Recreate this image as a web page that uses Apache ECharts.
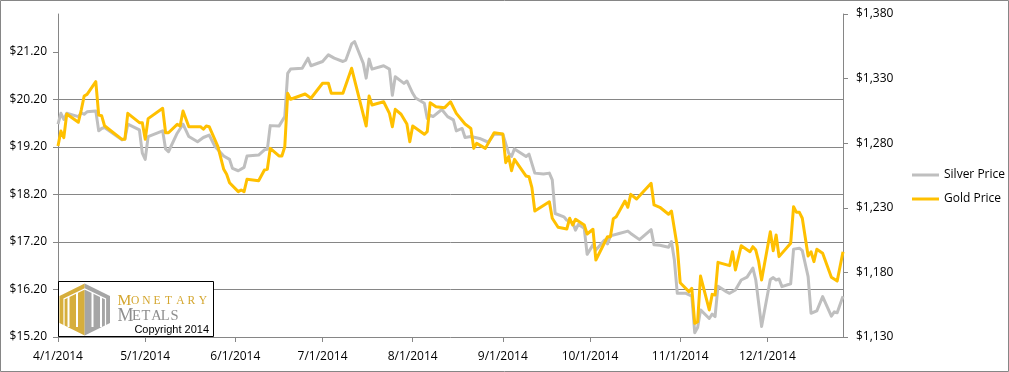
<!DOCTYPE html>
<html><head><meta charset="utf-8">
<script src="https://cdn.jsdelivr.net/npm/echarts@6/dist/echarts.min.js"></script>
<style>html,body{margin:0;padding:0;background:#fff}#c{width:1009px;height:372px}</style>
</head><body><div id="c"></div>
<script>
// ---------- data ----------
const xTickLabels = ['4/1/2014','5/1/2014','6/1/2014','7/1/2014','8/1/2014','9/1/2014','10/1/2014','11/1/2014','12/1/2014'];
const xStart = '4/1/2014';
const xEnd = '12/27/2014';
const silverTicks = [15.2, 16.2, 17.2, 18.2, 19.2, 20.2, 21.2];
const silverMax = 22.0;
const goldTicks = [1130, 1180, 1230, 1280, 1330, 1380];
const seriesNames = ['Silver Price', 'Gold Price'];

const silverDates = ['2014-04-01','2014-04-02','2014-04-03','2014-04-04','2014-04-08','2014-04-09','2014-04-10','2014-04-11','2014-04-14','2014-04-15','2014-04-16','2014-04-17','2014-04-23','2014-04-24','2014-04-25','2014-04-29','2014-04-30','2014-05-01','2014-05-02','2014-05-07','2014-05-08','2014-05-09','2014-05-12','2014-05-14','2014-05-16','2014-05-19','2014-05-21','2014-05-23','2014-05-25','2014-05-28','2014-05-30','2014-05-31','2014-06-02','2014-06-04','2014-06-05','2014-06-09','2014-06-11','2014-06-12','2014-06-13','2014-06-16','2014-06-18','2014-06-19','2014-06-20','2014-06-24','2014-06-26','2014-06-27','2014-07-01','2014-07-03','2014-07-05','2014-07-08','2014-07-09','2014-07-11','2014-07-12','2014-07-15','2014-07-16','2014-07-17','2014-07-18','2014-07-22','2014-07-24','2014-07-25','2014-07-26','2014-07-29','2014-07-30','2014-08-01','2014-08-02','2014-08-05','2014-08-06','2014-08-07','2014-08-08','2014-08-11','2014-08-13','2014-08-15','2014-08-16','2014-08-18','2014-08-19','2014-08-21','2014-08-24','2014-08-27','2014-08-29','2014-09-01','2014-09-03','2014-09-04','2014-09-05','2014-09-09','2014-09-10','2014-09-12','2014-09-15','2014-09-17','2014-09-18','2014-09-19','2014-09-22','2014-09-23','2014-09-25','2014-09-26','2014-09-27','2014-09-29','2014-09-30','2014-10-02','2014-10-03','2014-10-06','2014-10-07','2014-10-08','2014-10-11','2014-10-14','2014-10-15','2014-10-18','2014-10-22','2014-10-23','2014-10-25','2014-10-28','2014-10-29','2014-10-30','2014-10-31','2014-11-03','2014-11-05','2014-11-06','2014-11-07','2014-11-08','2014-11-11','2014-11-12','2014-11-13','2014-11-14','2014-11-17','2014-11-18','2014-11-20','2014-11-22','2014-11-24','2014-11-26','2014-11-27','2014-11-29','2014-12-02','2014-12-03','2014-12-04','2014-12-05','2014-12-06','2014-12-09','2014-12-10','2014-12-12','2014-12-13','2014-12-15','2014-12-16','2014-12-18','2014-12-20','2014-12-23','2014-12-24','2014-12-25','2014-12-27'];
const silverValues = [19.68,19.91,19.78,19.91,19.84,19.92,19.89,19.94,19.96,19.54,19.59,19.61,19.35,19.37,19.68,19.56,19.07,18.94,19.42,19.54,19.16,19.10,19.49,19.68,19.42,19.31,19.40,19.45,19.21,19.01,18.94,18.75,18.70,18.77,19.01,19.03,19.14,19.15,19.65,19.64,19.84,20.75,20.84,20.86,21.07,20.91,21.00,21.14,21.07,21.00,21.03,21.37,21.42,20.96,20.65,21.05,20.84,20.91,20.84,20.29,20.68,20.54,20.59,20.33,20.23,20.12,19.80,19.87,19.84,19.99,19.84,19.77,19.54,19.59,19.40,19.42,19.38,19.30,19.47,19.47,19.07,19.00,19.16,19.00,19.05,18.65,18.63,18.65,18.51,17.80,17.73,17.66,17.61,17.45,17.57,17.49,16.94,17.14,17.03,17.24,17.16,17.33,17.38,17.43,17.38,17.25,17.46,17.14,17.13,17.09,17.21,16.82,16.12,16.12,16.06,15.29,15.40,15.77,15.59,15.68,15.63,16.27,16.15,16.12,16.19,16.40,16.46,16.65,16.40,15.42,16.41,16.45,16.40,16.42,16.26,16.32,17.05,17.07,17.02,16.47,15.70,15.75,16.05,15.64,15.73,15.71,16.06];

const goldDates = ['2014-04-01','2014-04-02','2014-04-03','2014-04-04','2014-04-08','2014-04-09','2014-04-10','2014-04-11','2014-04-14','2014-04-15','2014-04-16','2014-04-17','2014-04-23','2014-04-24','2014-04-25','2014-04-29','2014-04-30','2014-05-01','2014-05-02','2014-05-07','2014-05-08','2014-05-09','2014-05-12','2014-05-13','2014-05-14','2014-05-16','2014-05-20','2014-05-21','2014-05-22','2014-05-23','2014-05-26','2014-05-28','2014-05-29','2014-05-30','2014-06-02','2014-06-03','2014-06-04','2014-06-05','2014-06-09','2014-06-11','2014-06-12','2014-06-13','2014-06-16','2014-06-17','2014-06-18','2014-06-19','2014-06-20','2014-06-25','2014-06-27','2014-07-01','2014-07-03','2014-07-04','2014-07-08','2014-07-11','2014-07-16','2014-07-17','2014-07-18','2014-07-22','2014-07-24','2014-07-25','2014-07-26','2014-07-28','2014-07-30','2014-07-31','2014-08-01','2014-08-05','2014-08-06','2014-08-07','2014-08-09','2014-08-12','2014-08-14','2014-08-16','2014-08-19','2014-08-21','2014-08-22','2014-08-23','2014-08-26','2014-08-29','2014-09-01','2014-09-02','2014-09-03','2014-09-04','2014-09-05','2014-09-09','2014-09-10','2014-09-11','2014-09-12','2014-09-17','2014-09-18','2014-09-20','2014-09-23','2014-09-24','2014-09-25','2014-09-26','2014-09-29','2014-09-30','2014-10-02','2014-10-03','2014-10-07','2014-10-08','2014-10-09','2014-10-10','2014-10-13','2014-10-14','2014-10-15','2014-10-17','2014-10-22','2014-10-23','2014-10-25','2014-10-28','2014-10-29','2014-10-31','2014-11-01','2014-11-04','2014-11-05','2014-11-06','2014-11-07','2014-11-08','2014-11-11','2014-11-12','2014-11-13','2014-11-14','2014-11-18','2014-11-19','2014-11-20','2014-11-22','2014-11-25','2014-11-26','2014-11-27','2014-11-28','2014-11-29','2014-12-02','2014-12-03','2014-12-04','2014-12-05','2014-12-09','2014-12-10','2014-12-11','2014-12-12','2014-12-13','2014-12-15','2014-12-16','2014-12-17','2014-12-18','2014-12-20','2014-12-23','2014-12-25','2014-12-27'];
const goldValues = [1277.8,1289.4,1284.3,1302.6,1296.2,1305.7,1316.5,1317.8,1327.6,1301.8,1301.3,1293.5,1283.0,1283.0,1303.1,1295.9,1295.9,1283.0,1299.0,1307.0,1288.1,1288.1,1294.6,1293.3,1304.9,1292.8,1292.8,1290.8,1293.3,1292.8,1277.3,1259.8,1255.9,1249.4,1242.5,1243.8,1242.5,1252.1,1251.0,1259.3,1259.8,1276.0,1270.1,1270.1,1277.3,1318.6,1314.0,1318.1,1314.8,1326.4,1326.4,1318.6,1318.6,1338.0,1293.3,1316.5,1309.6,1312.1,1303.1,1292.8,1306.2,1302.4,1294.9,1281.2,1293.3,1286.9,1288.9,1311.3,1308.3,1307.5,1312.1,1303.1,1294.9,1291.5,1276.0,1279.9,1276.0,1288.1,1287.1,1264.9,1269.6,1258.7,1267.5,1254.6,1254.1,1245.6,1227.5,1234.7,1221.9,1214.9,1213.6,1221.9,1216.7,1221.1,1216.7,1209.7,1213.4,1189.6,1207.6,1207.6,1221.6,1223.1,1235.3,1230.4,1240.4,1236.8,1249.0,1232.2,1230.4,1225.0,1227.5,1199.9,1172.0,1165.1,1167.7,1140.6,1141.8,1177.2,1150.9,1163.0,1162.5,1187.8,1185.2,1196.0,1181.9,1200.7,1196.0,1199.9,1197.3,1188.3,1174.1,1211.5,1196.8,1208.9,1192.2,1202.5,1230.9,1226.5,1226.5,1221.9,1192.7,1196.0,1188.3,1197.9,1194.8,1176.2,1173.3,1196.0];

// ---------- helpers ----------
function mdy(s){ const p = s.split('/').map(Number); return +new Date(p[2], p[0]-1, p[1]); }
function ymd(s){ const p = s.split('-').map(Number); return +new Date(p[0], p[1]-1, p[2]); }
function fmtDate(v){ const d = new Date(v); return (d.getMonth()+1)+'/'+d.getDate()+'/'+d.getFullYear(); }
function fmtGold(v){ return '$' + Math.round(v).toString().replace(/\B(?=(\d{3})+(?!\d))/g, ','); }

const AX = '#868686';
const FONT = 'Open Sans';
const chart = echarts.init(document.getElementById('c'), null, {renderer:'canvas'});

const logoGold = '#D6AE3C', logoGray = '#A5A5A5';
const cx = 84.7;
const xTicks = xTickLabels.map(mdy);

chart.setOption({
  animation: false,
  backgroundColor: '#fff',
  grid: {left: 58, right: 166, top: 14, bottom: 35, containLabel: false},
  legend: {
    orient: 'vertical', left: 907, top: 163, itemWidth: 27, itemHeight: 3, itemGap: 10,
    icon: 'rect', selectedMode: false,
    textStyle: {fontFamily: FONT, fontSize: 12, color: '#000', lineHeight: 14},
    data: seriesNames
  },
  xAxis: {
    type: 'value', min: mdy(xStart), max: mdy(xEnd),
    axisLine: {show: true, lineStyle: {color: AX, width: 1}},
    axisTick: {show: true, length: 5, inside: false, lineStyle: {color: AX}, customValues: xTicks},
    axisLabel: {customValues: xTicks, formatter: fmtDate, margin: 14,
      fontFamily: FONT, fontSize: 12, color: '#000', hideOverlap: false},
    splitLine: {show: false}
  },
  yAxis: [{
    type: 'value', position: 'left', min: silverTicks[0], max: silverMax,
    axisLine: {show: true, lineStyle: {color: AX, width: 1}},
    axisTick: {show: true, length: 5, inside: false, lineStyle: {color: AX}, customValues: silverTicks},
    axisLabel: {customValues: silverTicks, formatter: v => '$' + v.toFixed(2), margin: 11,
      fontFamily: FONT, fontSize: 12, color: '#000'},
    splitLine: {show: true, showMinLine: false, showMaxLine: false, lineStyle: {color: AX, width: 1}}
  }, {
    type: 'value', position: 'right', min: goldTicks[0], max: goldTicks[goldTicks.length-1],
    axisLine: {show: true, lineStyle: {color: AX, width: 1}},
    axisTick: {show: true, length: 5, inside: false, lineStyle: {color: AX}, customValues: goldTicks},
    axisLabel: {customValues: goldTicks, formatter: fmtGold, margin: 13,
      fontFamily: FONT, fontSize: 12, color: '#000'},
    splitLine: {show: false}
  }],
  series: [{
    name: seriesNames[0], type: 'line', yAxisIndex: 0, showSymbol: false, symbol: 'none',
    color: '#BFBFBF', lineStyle: {width: 3, color: '#BFBFBF', join: 'round'},
    data: silverDates.map((d, i) => [ymd(d), silverValues[i]]), z: 2
  }, {
    name: seriesNames[1], type: 'line', yAxisIndex: 1, showSymbol: false, symbol: 'none',
    color: '#FFC000', lineStyle: {width: 3, color: '#FFC000', join: 'round'},
    data: goldDates.map((d, i) => [ymd(d), goldValues[i]]), z: 3
  }],
  graphic: [
    {type: 'rect', z: -10, silent: true, shape: {x: 0.5, y: 0.5, width: 1008, height: 371},
      style: {fill: 'none', stroke: AX, lineWidth: 1}},
    {type: 'rect', z: 100, silent: true, shape: {x: 58.5, y: 281.5, width: 155, height: 55},
      style: {fill: '#fff', stroke: '#000', lineWidth: 1}},
    {type: 'polygon', z: 101, silent: true, shape: {points: [[cx,283.5],[59.5,296],[59.5,323],[cx,335.5]]},
      style: {fill: logoGold}},
    {type: 'polygon', z: 101, silent: true, shape: {points: [[cx,283.5],[110,296],[110,323],[cx,335.5]]},
      style: {fill: logoGray}},
    {type: 'polyline', z: 102, silent: true, shape: {points: [[64,327],[64,299],[cx,289],[105.5,299],[105.5,327]]},
      style: {stroke: '#fff', lineWidth: 1.2, fill: null}},
    {type: 'rect', z: 102, silent: true, shape: {x: 67.5, y: 297, width: 2, height: 30}, style: {fill: '#fff'}},
    {type: 'rect', z: 102, silent: true, shape: {x: 76, y: 293, width: 2, height: 34}, style: {fill: '#fff'}},
    {type: 'rect', z: 102, silent: true, shape: {x: 91.5, y: 293, width: 2, height: 34}, style: {fill: '#fff'}},
    {type: 'rect', z: 102, silent: true, shape: {x: 100, y: 297, width: 2, height: 30}, style: {fill: '#fff'}},
    {type: 'text', z: 103, silent: true, x: 117.5, y: 301,
      style: {text: '{b|M}{s|O}{s|N}{s|E}{s|T}{s|A}{s|R}{s|Y}', verticalAlign: 'middle',
        rich: {b: {fontFamily: 'Liberation Serif', fontSize: 15.5, fill: '#D4A62E', width: 13.5},
               s: {fontFamily: 'Liberation Serif', fontSize: 11.5, fill: '#D4A62E', width: 11.3}}}},
    {type: 'text', z: 103, silent: true, x: 117.5, y: 316.5,
      style: {text: '{b|M}{s|E}{s|T}{s|A}{s|L}{s|S}', verticalAlign: 'middle',
        rich: {b: {fontFamily: 'Liberation Serif', fontSize: 18, fill: '#8E8E8E', width: 14.5},
               s: {fontFamily: 'Liberation Serif', fontSize: 14.5, fill: '#8E8E8E', width: 9.6}}}},
    {type: 'text', z: 103, silent: true, x: 209, y: 330,
      style: {text: 'Copyright 2014', align: 'right', verticalAlign: 'middle',
        fontFamily: 'Liberation Sans', fontSize: 11, fill: '#000'}}
  ]
});
</script></body></html>
